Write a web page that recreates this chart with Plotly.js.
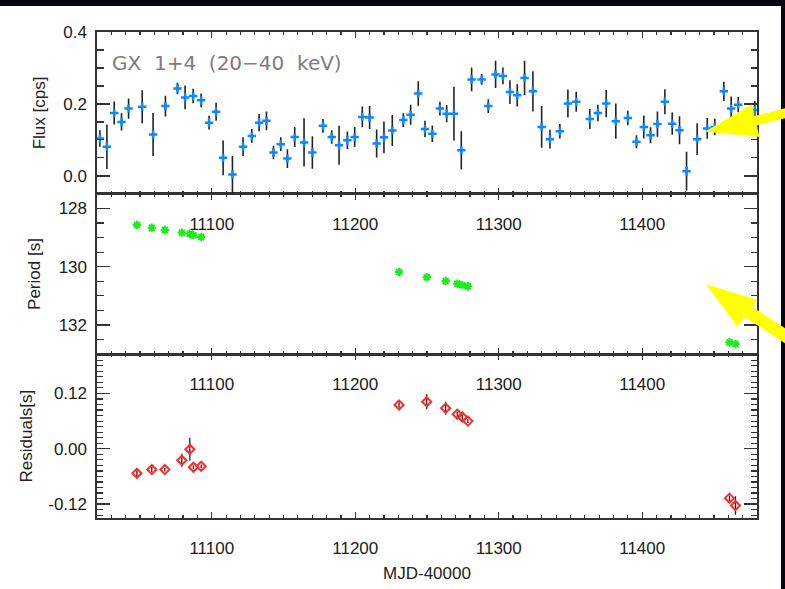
<!DOCTYPE html>
<html>
<head>
<meta charset="utf-8">
<script src="https://cdn.plot.ly/plotly-3.0.1.min.js"></script>
<style>
  html, body { margin: 0; padding: 0; background: #ffffff; }
  #chart { width: 785px; height: 589px; }
</style>
</head>
<body>
<div id="chart"></div>
<script>
// ---------------- DATA ----------------
const fluxMjd = [11022.0, 11026.9, 11032.0, 11037.1, 11042.0, 11051.5, 11059.1, 11067.7, 11076.1, 11081.4,
                 11087.0, 11092.6, 11098.1, 11103.0, 11107.9, 11114.4, 11121.8, 11127.9, 11133.0, 11138.1,
                 11143.0, 11148.1, 11152.7, 11157.8, 11164.3, 11170.1, 11177.5, 11183.6, 11188.7, 11194.5,
                 11199.6, 11204.9, 11210.0, 11214.9, 11220.0, 11225.8, 11233.5, 11238.6, 11243.9, 11248.6,
                 11253.7, 11259.0, 11263.7, 11268.8, 11273.9, 11281.1, 11288.1, 11292.7, 11297.8, 11302.9,
                 11307.8, 11312.9, 11318.0, 11323.8, 11329.9, 11335.7, 11342.6, 11348.2, 11354.0, 11363.5,
                 11369.1, 11374.9, 11381.6, 11390.0, 11396.0, 11401.1, 11405.8, 11410.6, 11415.8, 11420.9,
                 11426.0, 11430.9, 11438.3, 11445.3, 11450.6, 11456.9, 11462.0, 11466.9, 11478.5, 11483.0];
const flux = [0.104, 0.081, 0.175, 0.150, 0.187, 0.192, 0.115, 0.194, 0.243, 0.218,
              0.222, 0.210, 0.148, 0.178, 0.050, 0.004, 0.081, 0.111, 0.148, 0.153,
              0.065, 0.088, 0.048, 0.108, 0.093, 0.065, 0.139, 0.108, 0.085, 0.099,
              0.108, 0.164, 0.162, 0.090, 0.107, 0.126, 0.155, 0.170, 0.229, 0.130,
              0.117, 0.187, 0.173, 0.173, 0.071, 0.268, 0.268, 0.194, 0.282, 0.278,
              0.233, 0.224, 0.272, 0.235, 0.136, 0.102, 0.124, 0.201, 0.206, 0.158,
              0.175, 0.201, 0.152, 0.161, 0.095, 0.136, 0.113, 0.144, 0.206, 0.145,
              0.127, 0.013, 0.102, 0.132, 0.136, 0.235, 0.187, 0.198, 0.183, 0.090];
const fluxErr = [0.023, 0.062, 0.032, 0.024, 0.028, 0.046, 0.060, 0.029, 0.016, 0.033,
                 0.020, 0.019, 0.019, 0.025, 0.048, 0.051, 0.026, 0.019, 0.024, 0.026,
                 0.019, 0.019, 0.026, 0.028, 0.067, 0.045, 0.019, 0.019, 0.054, 0.024,
                 0.028, 0.029, 0.032, 0.039, 0.044, 0.043, 0.019, 0.028, 0.034, 0.023,
                 0.023, 0.019, 0.024, 0.075, 0.053, 0.033, 0.015, 0.019, 0.038, 0.023,
                 0.033, 0.031, 0.048, 0.056, 0.058, 0.026, 0.020, 0.039, 0.028, 0.028,
                 0.023, 0.038, 0.049, 0.020, 0.018, 0.032, 0.022, 0.035, 0.035, 0.031,
                 0.039, 0.054, 0.044, 0.029, 0.023, 0.027, 0.034, 0.021, 0.025, 0.025];

const periodMjd = [11047.8, 11058.2, 11067.3, 11079.1, 11084.7, 11087.2, 11092.6,
                   11230.5, 11249.8, 11263.0, 11271.1, 11274.6, 11278.5, 11460.8, 11465.0];
const period = [128.57, 128.66, 128.74, 128.83, 128.87, 128.92, 128.98,
                130.18, 130.36, 130.49, 130.58, 130.63, 130.67, 132.59, 132.65];
const resid = [-0.053, -0.045, -0.045, -0.025, -0.001, -0.040, -0.038,
               0.095, 0.102, 0.088, 0.075, 0.069, 0.060, -0.107, -0.123];
const residErr = [0.011, 0.006, 0.004, 0.014, 0.025, 0.004, 0.004,
                  0.006, 0.016, 0.014, 0.006, 0.006, 0.004, 0.006, 0.020];

const residTickVals = [-0.12, 0, 0.12];
const residTickText = ['-0.12', '0.00', '0.12'];
const sourceLabel = 'GX\u00a0\u00a01+4\u00a0\u00a0(20\u221240\u00a0\u00a0keV)';

// ---------------- LAYOUT HELPERS ----------------
const M = {l: 97, r: 28, t: 32, b: 71};
const FIG_W = 785, FIG_H = 589;
const PW = FIG_W - M.l - M.r, PH = FIG_H - M.t - M.b;
const fx = p => (p - M.l) / PW;
const fy = p => (M.t + PH - p) / PH;
function polyPath(pts) {
  return 'M' + pts.map(p => fx(p[0]).toFixed(5) + ',' + fy(p[1]).toFixed(5)).join('L') + 'Z';
}

// yellow pointer arrows (pixel outlines)
const arrowOutlines = [
  [[705, 131.5], [752, 104.5], [754.6, 116.0], [792, 106.6], [792, 116.6], [756.8, 125.4], [759.5, 137.0]],
  [[706, 284.3], [757.3, 300.0], [752.2, 306.8], [792, 332.9], [792, 347.9], [744.6, 316.9], [737.3, 326.7]]
];

const tickFont = {family: 'Liberation Sans, Arial, Helvetica, sans-serif', size: 17, color: '#1a1a1a'};
const axisColor = '#333333';

function xAxis(anchor, extra) {
  return Object.assign({
    anchor: anchor,
    range: [11020, 11480],
    tickmode: 'linear', tick0: 11000, dtick: 100, tickformat: 'd',
    ticks: 'inside', ticklen: 6, tickwidth: 1.4, tickcolor: axisColor,
    minor: {tickmode: 'linear', tick0: 11000, dtick: 10, ticks: 'inside', ticklen: 3, tickwidth: 1.2, tickcolor: axisColor},
    showline: true, linecolor: axisColor, linewidth: 1.6, mirror: 'allticks',
    showgrid: false, zeroline: false,
    tickfont: tickFont, ticklabelstandoff: 14
  }, extra || {});
}
function yAxis(anchor, domain, extra) {
  return Object.assign({
    anchor: anchor, domain: domain,
    ticks: 'inside', ticklen: 13, tickwidth: 1.4, tickcolor: axisColor,
    showline: true, linecolor: axisColor, linewidth: 1.6, mirror: 'allticks',
    showgrid: false, zeroline: false,
    tickfont: tickFont, ticklabelstandoff: 5
  }, extra || {});
}
const titleFont = {family: 'Liberation Sans, Arial, Helvetica, sans-serif', size: 17, color: '#222222'};

const traces = [
  {x: fluxMjd, y: flux, xaxis: 'x3', yaxis: 'y3', type: 'scatter', mode: 'markers',
   marker: {size: 6, color: 'rgba(0,0,0,0)'},
   error_y: {type: 'data', array: fluxErr, visible: true, color: '#222222', thickness: 1.6, width: 0},
   hoverinfo: 'skip', showlegend: false},
  {x: fluxMjd, y: flux, xaxis: 'x3', yaxis: 'y3', type: 'scatter', mode: 'markers',
   marker: {symbol: 'cross-thin-open', size: 6, color: '#0f87ff', line: {width: 2.5}},
   showlegend: false},
  {x: periodMjd, y: period, xaxis: 'x2', yaxis: 'y2', type: 'scatter', mode: 'markers',
   marker: {symbol: 'asterisk-open', size: 7, color: '#18ee18', line: {width: 2}},
   showlegend: false},
  {x: periodMjd, y: resid, xaxis: 'x', yaxis: 'y', type: 'scatter', mode: 'markers',
   marker: {size: 6, color: 'rgba(0,0,0,0)'},
   error_y: {type: 'data', array: residErr, visible: true, color: '#222222', thickness: 1.3, width: 0},
   hoverinfo: 'skip', showlegend: false},
  {x: periodMjd, y: resid, xaxis: 'x', yaxis: 'y', type: 'scatter', mode: 'markers',
   marker: {symbol: 'diamond-open', size: 7, color: '#ff2a2a', line: {width: 2}},
   showlegend: false}
];

const shapes = [
  {type: 'rect', xref: 'paper', yref: 'paper', x0: fx(-2), x1: fx(FIG_W + 2), y0: fy(6), y1: fy(-2),
   fillcolor: '#07070f', line: {width: 0}, layer: 'above'},
  {type: 'rect', xref: 'paper', yref: 'paper', x0: fx(781), x1: fx(FIG_W + 2), y0: fy(FIG_H + 2), y1: fy(-2),
   fillcolor: '#07070f', line: {width: 0}, layer: 'above'}
].concat(arrowOutlines.map(pts => ({
  type: 'path', xref: 'paper', yref: 'paper', path: polyPath(pts),
  fillcolor: '#ffff00', line: {width: 0}, layer: 'above'
})));

const layout = {
  width: FIG_W, height: FIG_H,
  margin: M,
  paper_bgcolor: '#ffffff', plot_bgcolor: '#ffffff',
  showlegend: false,
  xaxis: xAxis('y', {title: {text: 'MJD-40000', font: titleFont, standoff: 10}}),
  xaxis2: xAxis('y2'),
  xaxis3: xAxis('y3'),
  yaxis: yAxis('x', [0, 0.337], {
    range: [-0.15, 0.205], tickmode: 'array', tickvals: residTickVals, ticktext: residTickText,
    minor: {tickmode: 'linear', tick0: 0, dtick: 0.012, ticks: 'inside', ticklen: 6, tickwidth: 1.2, tickcolor: axisColor},
    title: {text: 'Residuals[s]', font: titleFont, standoff: 11}
  }),
  yaxis2: yAxis('x2', [0.337, 0.667], {
    range: [133, 127.5], tickmode: 'linear', tick0: 128, dtick: 2, tickformat: 'd',
    minor: {tickmode: 'linear', tick0: 128, dtick: 0.5, ticks: 'inside', ticklen: 6.5, tickwidth: 1.2, tickcolor: axisColor},
    title: {text: 'Period [s]', font: titleFont, standoff: 13}
  }),
  yaxis3: yAxis('x3', [0.667, 1], {
    range: [-0.05, 0.4], tickmode: 'linear', tick0: 0, dtick: 0.2, tickformat: '.1f',
    minor: {tickmode: 'linear', tick0: 0, dtick: 0.05, ticks: 'inside', ticklen: 6.5, tickwidth: 1.2, tickcolor: axisColor},
    title: {text: 'Flux [cps]', font: titleFont, standoff: 13}
  }),
  annotations: [
    {text: sourceLabel, xref: 'paper', yref: 'paper', x: fx(110), y: fy(63),
     xanchor: 'left', yanchor: 'middle', showarrow: false,
     font: {family: 'DejaVu Sans, Liberation Sans, sans-serif', size: 20, color: '#7c7c7c'}}
  ],
  shapes: shapes
};

Plotly.newPlot('chart', traces, layout, {displayModeBar: false, staticPlot: true});
</script>
</body>
</html>
